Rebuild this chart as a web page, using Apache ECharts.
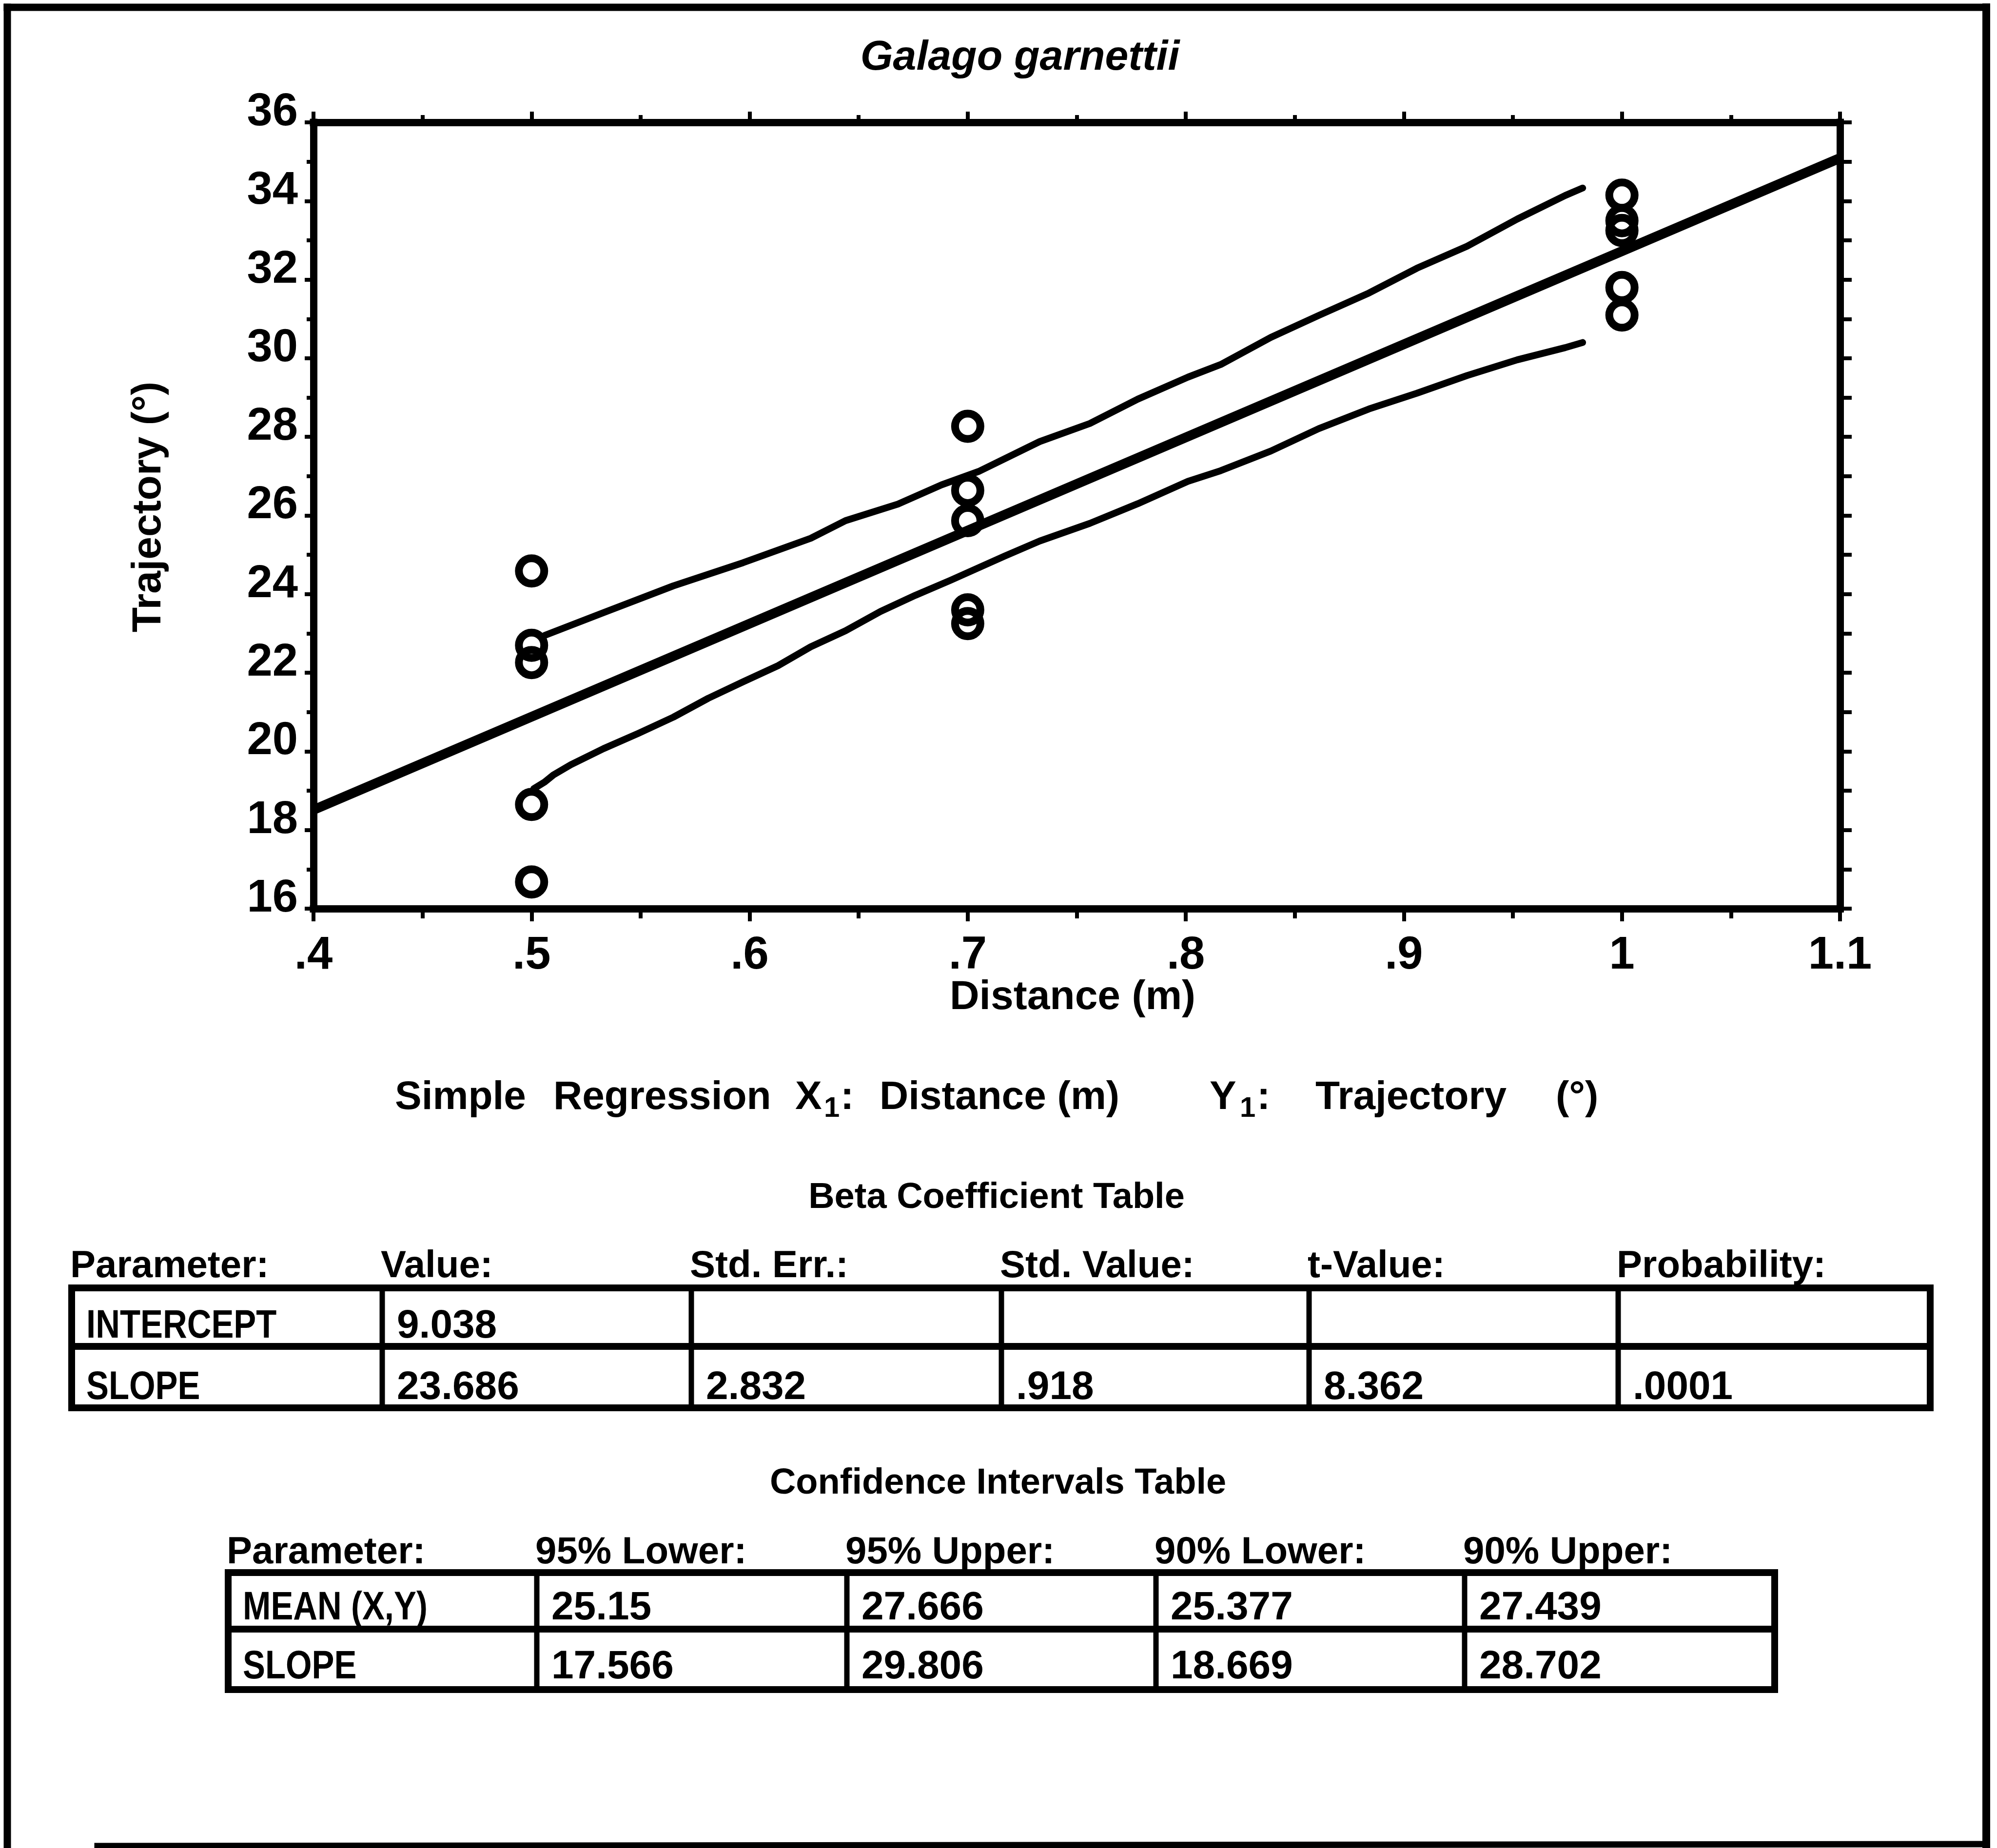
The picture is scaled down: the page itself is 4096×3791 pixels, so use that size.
<!DOCTYPE html>
<html>
<head>
<meta charset="utf-8">
<title>Galago garnettii – Simple Regression</title>
<script src="https://cdn.jsdelivr.net/npm/echarts@6/dist/echarts.min.js"></script>
<style>
  html, body { margin: 0; padding: 0; background: #fff; }
  #chart { width: 4096px; height: 3791px; }
</style>
</head>
<body>
<div id="chart"></div>
<script>
// ---------- data ----------
const INTERCEPT = 9.038;
const SLOPE = 23.686;

const xTickLabels = ['.4', '.5', '.6', '.7', '.8', '.9', '1', '1.1'];
const yTickLabels = ['16', '18', '20', '22', '24', '26', '28', '30', '32', '34', '36'];

// observed trials
const obsDistance = [0.5, 0.5, 0.5, 0.5, 0.5, 0.7, 0.7, 0.7, 0.7, 0.7, 1.0, 1.0, 1.0, 1.0, 1.0];
const obsTrajectory = [24.59, 22.70, 22.26, 18.65, 16.68, 28.27, 26.64, 25.87, 23.60, 23.25, 34.15, 33.50, 33.25, 31.80, 31.10];

// fitted line drawn across the whole distance axis
const fitDistance = [0.4, 1.1];

// confidence band, upper edge
const upperBandX = [0.506, 0.533, 0.565, 0.597, 0.628, 0.644, 0.668, 0.688, 0.705, 0.733, 0.756, 0.778, 0.801, 0.816, 0.839, 0.861, 0.884, 0.906, 0.929, 0.952, 0.974, 0.982];
const upperBandY = [22.95, 23.53, 24.21, 24.80, 25.42, 25.87, 26.29, 26.78, 27.12, 27.88, 28.34, 28.96, 29.52, 29.84, 30.53, 31.09, 31.66, 32.29, 32.85, 33.54, 34.14, 34.33];

// confidence band, lower edge
const lowerBandX = [0.501, 0.506, 0.510, 0.518, 0.533, 0.549, 0.565, 0.581, 0.597, 0.613, 0.628, 0.644, 0.660, 0.676, 0.692, 0.717, 0.733, 0.756, 0.778, 0.801, 0.816, 0.839, 0.861, 0.884, 0.906, 0.929, 0.952, 0.974, 0.982];
const lowerBandY = [19.05, 19.22, 19.40, 19.66, 20.07, 20.46, 20.87, 21.35, 21.77, 22.18, 22.66, 23.07, 23.56, 23.97, 24.35, 24.97, 25.35, 25.80, 26.30, 26.87, 27.14, 27.64, 28.21, 28.71, 29.11, 29.56, 29.96, 30.27, 30.40];

// text blocks
const chartTitle = 'Galago garnettii';
const xAxisTitle = 'Distance (m)';
const yAxisTitle = 'Trajectory (°)';

const betaTitle = 'Beta Coefficient Table';
const betaHeaders = ['Parameter:', 'Value:', 'Std. Err.:', 'Std. Value:', 't-Value:', 'Probability:'];
const betaRowIntercept = ['INTERCEPT', INTERCEPT.toFixed(3), '', '', '', ''];
const betaRowSlope = ['SLOPE', SLOPE.toFixed(3), '2.832', '.918', '8.362', '.0001'];

const ciTitle = 'Confidence Intervals Table';
const ciHeaders = ['Parameter:', '95% Lower:', '95% Upper:', '90% Lower:', '90% Upper:'];
const ciRowMean = ['MEAN (X,Y)', '25.15', '27.666', '25.377', '27.439'];
const ciRowSlope = ['SLOPE', '17.566', '29.806', '18.669', '28.702'];

// ---------- helpers ----------
const zip = (xs, ys) => xs.map((x, i) => [x, ys[i]]);
const FAMILY = '"Liberation Sans", Arial, Helvetica, sans-serif';
const font = (size, weight, style) => `${style || 'normal'} ${weight || 'normal'} ${size}px ${FAMILY}`;

function txt(text, x, y, size, opts) {
  opts = opts || {};
  return {
    type: 'text', x: x, y: y, rotation: opts.rotation || 0,
    scaleX: opts.scaleX || 1, z: 10,
    style: {
      text: text,
      font: font(size, opts.weight, opts.style),
      fill: '#000',
      textAlign: opts.align || 'left',
      textVerticalAlign: 'middle',
      align: opts.align || 'left',
      verticalAlign: 'middle'
    }
  };
}
function seg(x1, y1, x2, y2, w) {
  return {
    type: 'line', z: 10,
    shape: { x1: x1, y1: y1, x2: x2, y2: y2 },
    style: { stroke: '#000', lineWidth: w, lineCap: 'square' }
  };
}

// a ruled table: column edges, row edges, header + rows of cells
function table(cols, rows, headerMid, headers, body, bodyMids) {
  const g = [];
  rows.forEach(y => g.push(seg(cols[0], y, cols[cols.length - 1], y, 14)));
  cols.forEach((x, i) => {
    const outer = i === 0 || i === cols.length - 1;
    g.push(seg(x, rows[0], x, rows[rows.length - 1], outer ? 14 : 11));
  });
  headers.forEach((h, i) => g.push(txt(h, cols[i] - 3, headerMid, 78, { weight: 'bold' })));
  body.forEach((row, r) => {
    row.forEach((cell, i) => {
      if (!cell) return;
      // parameter names are set condensed
      const opts = i === 0 ? { weight: 'bold', scaleX: 0.84 } : { weight: 'bold' };
      g.push(txt(cell, cols[i] + 30, bodyMids[r], 82, opts));
    });
  });
  return g;
}

// ---------- graphic layer (frame, titles, tables) ----------
const graphics = [];
// page frame
graphics.push(seg(15, 15, 4074, 15, 15));
graphics.push(seg(15, 15, 15, 3800, 15));
graphics.push(seg(4074, 15, 4074, 3786, 16));
graphics.push(seg(200, 3787, 4074, 3783, 13));

// titles around the plot
graphics.push(txt(chartTitle, 2092, 119, 86, { weight: 'bold', style: 'italic', align: 'center' }));
graphics.push(txt(yAxisTitle, 306, 1040, 84, { weight: 'bold', align: 'center', rotation: Math.PI / 2 }));
graphics.push(txt(xAxisTitle, 2200, 2047, 84, { weight: 'bold', align: 'center' }));

// "Simple Regression X1: Distance (m)   Y1: Trajectory (°)"
const headMid = 2252, subMid = 2275;
graphics.push(txt('Simple', 810, headMid, 82, { weight: 'bold' }));
graphics.push(txt('Regression', 1135, headMid, 82, { weight: 'bold' }));
graphics.push(txt('X', 1631, headMid, 82, { weight: 'bold' }));
graphics.push(txt('1', 1690, subMid, 58, { weight: 'bold' }));
graphics.push(txt(':', 1724, headMid, 82, { weight: 'bold' }));
graphics.push(txt(xAxisTitle, 1804, headMid, 82, { weight: 'bold' }));
graphics.push(txt('Y', 2481, headMid, 82, { weight: 'bold' }));
graphics.push(txt('1', 2543, subMid, 58, { weight: 'bold' }));
graphics.push(txt(':', 2578, headMid, 82, { weight: 'bold' }));
graphics.push(txt('Trajectory', 2698, headMid, 82, { weight: 'bold' }));
graphics.push(txt('(°)', 3191, headMid, 82, { weight: 'bold' }));

// beta coefficient table
graphics.push(txt(betaTitle, 2044, 2458, 74, { weight: 'bold', align: 'center' }));
graphics.push.apply(graphics, table(
  [147, 784, 1418, 2054, 2685, 3319, 3959],
  [2642, 2762, 2888],
  2598, betaHeaders, [betaRowIntercept, betaRowSlope], [2721, 2847]
));

// confidence interval table
graphics.push(txt(ciTitle, 2047, 3044, 74, { weight: 'bold', align: 'center' }));
graphics.push.apply(graphics, table(
  [468, 1101, 1737, 2371, 3004, 3640],
  [3226, 3342, 3466],
  3185, ciHeaders, [ciRowMean, ciRowSlope], [3299, 3420]
));

// ---------- axes ----------
const axisLineStyle = { color: '#000', width: 15, cap: 'square' };
const tickStyle = { color: '#000', width: 8 };
const labelFont = { fontFamily: FAMILY, fontWeight: 'bold', fontSize: 94, color: '#000' };

const xBase = {
  type: 'value', min: 0.4, max: 1.1, interval: 0.1,
  axisLine: { show: true, onZero: false, lineStyle: axisLineStyle },
  splitLine: { show: false }, minorSplitLine: { show: false }
};
const yBase = {
  type: 'value', min: 16, max: 36, interval: 2,
  axisLine: { show: true, onZero: false, lineStyle: axisLineStyle },
  splitLine: { show: false }, minorSplitLine: { show: false }
};

const option = {
  animation: false,
  backgroundColor: '#fff',
  grid: { left: 643, top: 251, width: 3131, height: 1613, containLabel: false },
  xAxis: [
    Object.assign({}, xBase, {
      position: 'bottom',
      axisTick: { show: true, inside: false, length: 26, lineStyle: tickStyle },
      minorTick: { show: true, splitNumber: 2, length: 20, lineStyle: tickStyle },
      axisLabel: Object.assign({}, labelFont, {
        margin: 50,
        formatter: v => xTickLabels[Math.round((v - 0.4) / 0.1)]
      })
    }),
    Object.assign({}, xBase, {
      position: 'top',
      axisTick: { show: true, inside: false, length: 22, lineStyle: tickStyle },
      minorTick: { show: true, splitNumber: 2, length: 15, lineStyle: tickStyle },
      axisLabel: { show: false }
    })
  ],
  yAxis: [
    Object.assign({}, yBase, {
      position: 'left',
      axisTick: { show: true, inside: false, length: 18, lineStyle: tickStyle },
      minorTick: { show: true, splitNumber: 2, length: 14, lineStyle: tickStyle },
      axisLabel: Object.assign({}, labelFont, {
        margin: 32,
        verticalAlign: 'bottom',
        lineHeight: 40,
        formatter: v => yTickLabels[Math.round((v - 16) / 2)]
      })
    }),
    Object.assign({}, yBase, {
      position: 'right',
      axisTick: { show: true, inside: false, length: 24, lineStyle: tickStyle },
      minorTick: { show: true, splitNumber: 2, length: 24, lineStyle: tickStyle },
      axisLabel: { show: false }
    })
  ],
  series: [
    {
      name: 'Fit', type: 'line', xAxisIndex: 0, yAxisIndex: 0,
      data: fitDistance.map(x => [x, INTERCEPT + SLOPE * x]),
      showSymbol: false, symbol: 'none', silent: true, z: 3,
      lineStyle: { color: '#000', width: 20 }
    },
    {
      name: 'Upper band', type: 'line', xAxisIndex: 0, yAxisIndex: 0,
      data: zip(upperBandX, upperBandY),
      showSymbol: false, symbol: 'none', silent: true, z: 3,
      lineStyle: { color: '#000', width: 14, cap: 'round', join: 'round' }
    },
    {
      name: 'Lower band', type: 'line', xAxisIndex: 0, yAxisIndex: 0,
      data: zip(lowerBandX, lowerBandY),
      showSymbol: false, symbol: 'none', silent: true, z: 3,
      lineStyle: { color: '#000', width: 14, cap: 'round', join: 'round' }
    },
    {
      name: 'Trials', type: 'scatter', xAxisIndex: 0, yAxisIndex: 0,
      data: zip(obsDistance, obsTrajectory),
      symbol: 'circle', symbolSize: 52, z: 4,
      itemStyle: { color: 'rgba(0,0,0,0)', borderColor: '#000', borderWidth: 16, opacity: 1 }
    }
  ],
  graphic: graphics
};

const chart = echarts.init(document.getElementById('chart'), null, { renderer: 'canvas' });
chart.setOption(option);
</script>
</body>
</html>
